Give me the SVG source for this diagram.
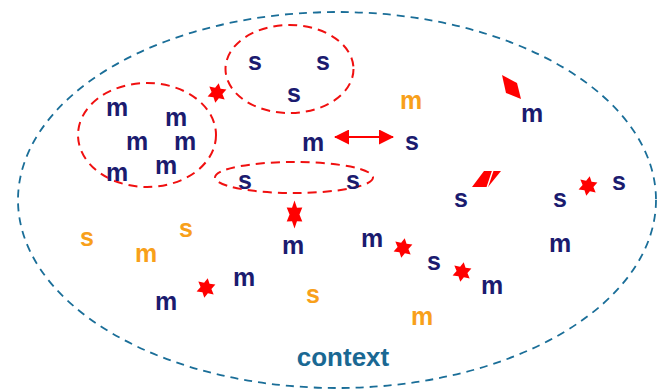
<svg xmlns="http://www.w3.org/2000/svg" xmlns:xlink="http://www.w3.org/1999/xlink" width="657" height="390" viewBox="0 0 657 390">
  <style>
    .t { font-family: "Liberation Sans", Arial, sans-serif; font-weight: bold; font-size: 25px; text-anchor: middle; }
    .n { fill: #1b1b6f; }
    .o { fill: #f8a01a; }
    .ctx { font-family: "Liberation Sans", Arial, sans-serif; font-weight: bold; font-size: 26px; text-anchor: middle; fill: #1a6893; }
    .outer { fill: none; stroke: #1a6e98; stroke-width: 1.8; stroke-dasharray: 8 6; }
    .grp { fill: none; stroke: #f01010; stroke-width: 2; stroke-dasharray: 9 6; }
    .red { fill: #ff0000; stroke: none; }
  </style>
  <defs>
    <!-- six-pointed relation star centred on the origin -->
    <polygon id="star" points="0,-10 2.75,-4.76 8.66,-5 5.5,0 8.66,5 2.75,4.76 0,10 -2.75,4.76 -8.66,5 -5.5,0 -8.66,-5 -2.75,-4.76"/>
    <marker id="head" viewBox="0 0 15 15" refX="14" refY="7.5" markerWidth="15" markerHeight="15" markerUnits="userSpaceOnUse" orient="auto-start-reverse">
      <path d="M0,0 L15,7.5 L0,15 Z" fill="#ff0000"/>
    </marker>
  </defs>

  <rect width="657" height="390" fill="#ffffff"/>

  <!-- context boundary -->
  <g id="context">
    <ellipse class="outer" cx="337" cy="200" rx="319" ry="188"/>
    <text class="ctx" x="343" y="366">context</text>
  </g>

  <!-- groupings -->
  <g id="group-m">
    <ellipse class="grp" cx="147" cy="135" rx="69" ry="52"/>
    <text class="t n" x="117" y="116">m</text>
    <text class="t n" x="176" y="126">m</text>
    <text class="t n" x="137" y="150">m</text>
    <text class="t n" x="185" y="150">m</text>
    <text class="t n" x="166" y="174">m</text>
    <text class="t n" x="117" y="181">m</text>
  </g>
  <g id="group-s">
    <ellipse class="grp" cx="289.5" cy="69" rx="64" ry="44"/>
    <text class="t n" x="255" y="70">s</text>
    <text class="t n" x="323" y="70">s</text>
    <text class="t n" x="294" y="102">s</text>
  </g>
  <g id="group-ss">
    <ellipse class="grp" cx="294" cy="177.5" rx="79" ry="15.5"/>
    <text class="t n" x="245" y="189">s</text>
    <text class="t n" x="353" y="189">s</text>
  </g>

  <!-- single elements -->
  <g id="m-center"><text class="t n" x="313" y="151">m</text></g>
  <g id="s-center"><text class="t n" x="412" y="150">s</text></g>
  <g id="m-orange-top"><text class="t o" x="411" y="109">m</text></g>
  <g id="m-right-top"><text class="t n" x="532" y="122">m</text></g>
  <g id="s-mid-right"><text class="t n" x="461" y="207">s</text></g>
  <g id="s-right-a"><text class="t n" x="560" y="207">s</text></g>
  <g id="s-right-b"><text class="t n" x="619" y="190">s</text></g>
  <g id="m-right"><text class="t n" x="560" y="252">m</text></g>
  <g id="m-chain-a"><text class="t n" x="372" y="247">m</text></g>
  <g id="s-chain"><text class="t n" x="434" y="270">s</text></g>
  <g id="m-chain-b"><text class="t n" x="492" y="294">m</text></g>
  <g id="m-orange-low"><text class="t o" x="422" y="325">m</text></g>
  <g id="s-orange-left"><text class="t o" x="87" y="246">s</text></g>
  <g id="m-orange-left"><text class="t o" x="146" y="262">m</text></g>
  <g id="s-orange-mid"><text class="t o" x="186" y="237">s</text></g>
  <g id="m-under"><text class="t n" x="293" y="254">m</text></g>
  <g id="m-low-a"><text class="t n" x="244" y="286">m</text></g>
  <g id="m-low-b"><text class="t n" x="166" y="310">m</text></g>
  <g id="s-orange-low"><text class="t o" x="313" y="303">s</text></g>

  <!-- relations -->
  <g id="connectors">
    <line x1="335" y1="137" x2="393" y2="137" stroke="#ff0000" stroke-width="2" marker-start="url(#head)" marker-end="url(#head)"/>
    <use xlink:href="#star" class="red" transform="translate(217,93) rotate(10)"/>
    <use xlink:href="#star" class="red" transform="translate(294.5,214.5) scale(0.9,1.4)"/>
    <use xlink:href="#star" class="red" transform="translate(403,248) rotate(10)"/>
    <use xlink:href="#star" class="red" transform="translate(462,272) rotate(10)"/>
    <use xlink:href="#star" class="red" transform="translate(588,186) rotate(10)"/>
    <use xlink:href="#star" class="red" transform="translate(206,288) rotate(10)"/>
    <polygon class="red" points="502,75 517,83 521,99 506,93"/>
    <polygon class="red" points="472,187 484,171 501,171 488,187"/>
    <line x1="493" y1="170" x2="487" y2="188" stroke="#ffffff" stroke-width="1.5"/>
  </g>
</svg>
